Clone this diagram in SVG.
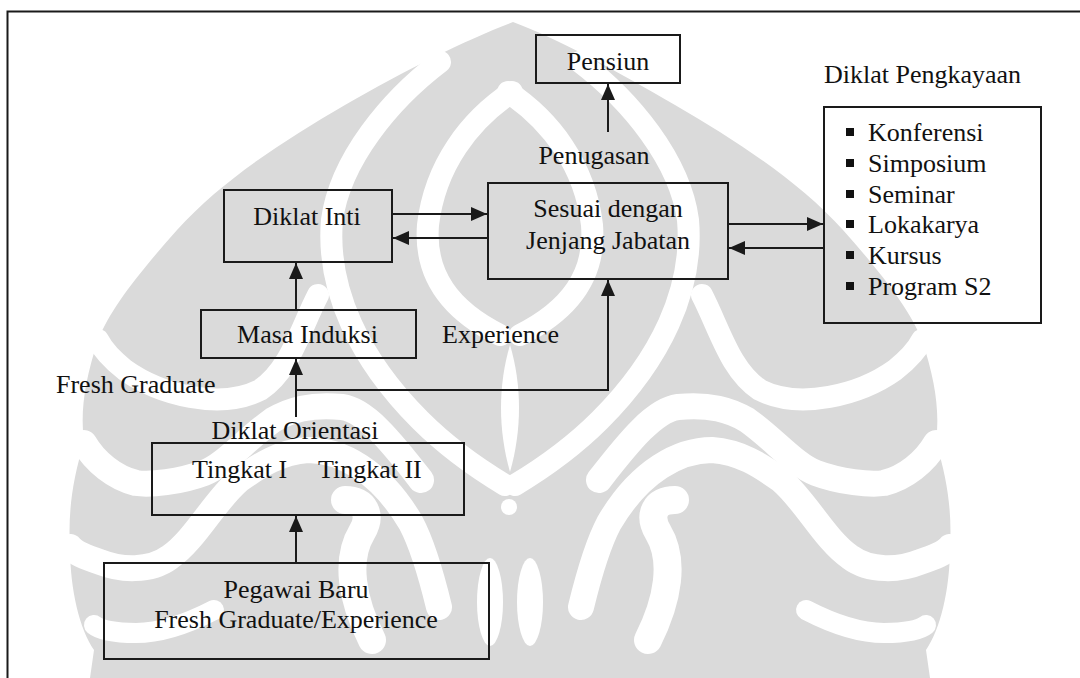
<svg xmlns="http://www.w3.org/2000/svg" width="1080" height="678" viewBox="0 0 1080 678">
<style>
.box{fill:none;stroke:#1a1a1a;stroke-width:2}
.t{font-family:"Liberation Serif","Times New Roman",serif;font-size:26px;fill:#111}
.c{text-anchor:middle}
.ln{fill:none;stroke:#1a1a1a;stroke-width:2}
.wm{fill:#dadada}
.wb{fill:none;stroke:#fff;stroke-linecap:round;stroke-linejoin:round}
</style>
<defs>
<marker id="ah" markerUnits="userSpaceOnUse" markerWidth="16" markerHeight="14" refX="16" refY="7" orient="auto">
<path d="M0,0 L16,7 L0,14 Z" fill="#1a1a1a"/>
</marker>
<g id="bands" class="wb">
<path stroke-width="22" d="M440,62 C390,100 340,160 332,220 C326,290 360,360 420,420 C450,450 480,470 505,485"/>
<path stroke-width="22" d="M512,92 C470,120 435,165 428,225 C424,275 450,310 500,335"/>
<path stroke-width="22" d="M318,295 C300,330 290,370 260,390 C220,410 160,395 125,370 C110,358 103,350 98,340"/>
<path stroke-width="26" d="M421,480 C390,440 365,410 342,407 C310,404 290,410 273,420 C245,440 225,465 204,473 C180,482 150,485 136,483 C115,478 95,462 84,443"/>
<path stroke-width="26" d="M439,607 C430,570 420,540 411,523 C380,470 340,450 308,450 C280,452 260,465 239,480 C215,500 195,540 170,557 C150,572 120,570 100,562 C85,557 75,553 70,547"/>
<path stroke-width="20" d="M214,610 C185,625 160,633 136,633 C115,633 100,630 94,625"/>
<path stroke-width="28" d="M372,640 C352,600 345,560 362,532 C372,515 365,500 345,500"/>
<ellipse cx="490" cy="602" rx="13" ry="44" fill="#fff" stroke="none"/>
</g>
</defs>
<g id="watermark">
<path class="wm" d="M513,22 C470,38 405,70 345,105 C285,140 222,180 177,230 C137,275 110,310 98,340 C85,380 80,410 84,443 C72,480 68,515 70,547 C70,590 80,630 94,650 L90,678 H930 L926,650 C940,630 950,590 950,547 C952,515 948,480 936,443 C940,410 935,380 922,340 C910,310 883,275 843,230 C798,180 735,140 675,105 C615,70 556,38 513,22 Z"/>
<use href="#bands"/>
<use href="#bands" transform="matrix(-1 0 0 1 1020 0)"/>
<path d="M510,345 C498,385 498,430 510,472 C522,430 522,385 510,345 Z" fill="#fff"/>
<circle cx="509" cy="507" r="8" fill="#fff"/>
</g>
<path id="frame" class="ln" d="M7.5,678 V11.5 H1080"/>
<g id="connectors">
<path class="ln" d="M608,132 V84" marker-end="url(#ah)"/>
<path class="ln" d="M392,214 H487" marker-end="url(#ah)"/>
<path class="ln" d="M488,238 H393" marker-end="url(#ah)"/>
<path class="ln" d="M728,224 H823" marker-end="url(#ah)"/>
<path class="ln" d="M824,248 H729" marker-end="url(#ah)"/>
<path class="ln" d="M296,310 V263" marker-end="url(#ah)"/>
<path class="ln" d="M296,417 V359" marker-end="url(#ah)"/>
<path class="ln" d="M296,390 H608 V280" marker-end="url(#ah)"/>
<path class="ln" d="M296,563 V516" marker-end="url(#ah)"/>
</g>
<g id="pensiun">
<rect class="box" x="536" y="35" width="144" height="48"/>
<text class="t c" x="608" y="70">Pensiun</text>
</g>
<text id="penugasan" class="t c" x="594" y="164">Penugasan</text>
<g id="sesuai">
<rect class="box" x="488" y="183" width="240" height="96"/>
<text class="t c" x="608" y="217">Sesuai dengan</text>
<text class="t c" x="608" y="249">Jenjang Jabatan</text>
</g>
<g id="diklat-inti">
<rect class="box" x="224" y="190" width="168" height="72"/>
<text class="t c" x="307" y="225">Diklat Inti</text>
</g>
<g id="pengkayaan">
<text class="t" x="824" y="83">Diklat Pengkayaan</text>
<rect class="box" x="824" y="107" width="217" height="216"/>
<g fill="#111">
<rect x="846" y="128" width="8" height="8"/>
<rect x="846" y="159" width="8" height="8"/>
<rect x="846" y="190" width="8" height="8"/>
<rect x="846" y="220" width="8" height="8"/>
<rect x="846" y="251" width="8" height="8"/>
<rect x="846" y="282" width="8" height="8"/>
</g>
<text class="t" x="868" y="141">Konferensi</text>
<text class="t" x="868" y="172">Simposium</text>
<text class="t" x="868" y="203">Seminar</text>
<text class="t" x="868" y="233">Lokakarya</text>
<text class="t" x="868" y="264">Kursus</text>
<text class="t" x="868" y="295">Program S2</text>
</g>
<g id="masa-induksi">
<rect class="box" x="201" y="310" width="215" height="48"/>
<text class="t c" x="307.5" y="343">Masa Induksi</text>
</g>
<text id="experience" class="t" x="442" y="343">Experience</text>
<text id="fresh-graduate" class="t" x="56" y="393">Fresh Graduate</text>
<g id="diklat-orientasi">
<text class="t c" x="295" y="439">Diklat Orientasi</text>
<rect class="box" x="152" y="443" width="312" height="72"/>
<text class="t" x="192" y="478">Tingkat I</text>
<text class="t" x="318" y="478">Tingkat II</text>
</g>
<g id="pegawai-baru">
<rect class="box" x="104" y="563" width="385" height="96"/>
<text class="t c" x="296" y="598">Pegawai Baru</text>
<text class="t c" x="296" y="628">Fresh Graduate/Experience</text>
</g>
</svg>
